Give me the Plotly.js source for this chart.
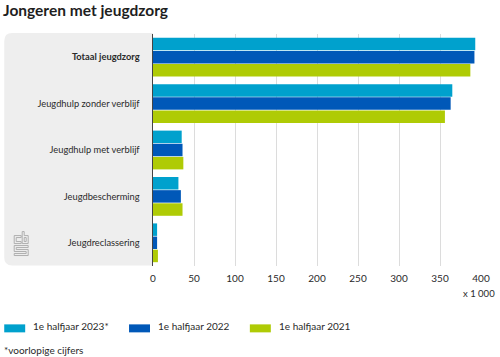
<!DOCTYPE html>
<html><head><meta charset="utf-8">
<script src="https://cdn.plot.ly/plotly-3.0.1.min.js"></script>
<style>html,body{margin:0;padding:0;background:#fff}#c{width:500px;height:357px}</style>
</head><body><div id="c"></div>
<script>
const categories = ['<b>Totaal jeugdzorg</b>','Jeugdhulp zonder verblijf','Jeugdhulp met verblijf','Jeugdbescherming','Jeugdreclassering'];
const seriesNames = ['1e halfjaar 2023*','1e halfjaar 2022','1e halfjaar 2021'];
const values2023 = [393,365,35,31,5];
const values2022 = [392,363,36,34,5];
const values2021 = [387,356,37,36,6];
const colors = ['#00a1cd','#0058b8','#afcb05'];
const xTicks = [0,50,100,150,200,250,300,350,400];
const FONT = 'Lato, "Noto Sans", sans-serif';
const W=500,H=357,L=153,R=481.5,T=34,B=266.5;
const allValues=[values2023,values2022,values2021];
const traces=allValues.map((v,i)=>({type:'bar',orientation:'h',name:seriesNames[i],x:v,y:categories,
  marker:{color:colors[i]},hoverinfo:'x+y'}));
const legendX=[4,129,250];
const fx=x=>(x-L)/(R-L), fy=y=>(B-y)/(B-T);
const shapes=[
 {type:'path',xref:'paper',yref:'paper',layer:'below',line:{width:0},fillcolor:'#eeeeee',
  path:`M ${fx(153)} ${fy(33)} L ${fx(12)} ${fy(33)} Q ${fx(4)} ${fy(33)} ${fx(4)} ${fy(41)} L ${fx(4)} ${fy(258)} Q ${fx(4)} ${fy(266)} ${fx(12)} ${fy(266)} L ${fx(153)} ${fy(266)} Z`}
];
const annotations=[
 {xref:'paper',yref:'paper',x:fx(1),xanchor:'left',y:fy(9.5),yanchor:'middle',text:'<b>Jongeren met jeugdzorg</b>',showarrow:false,font:{family:FONT,size:15.5,color:'#1e1e1e'}},
 {xref:'paper',yref:'paper',x:fx(498),xanchor:'right',y:fy(294),yanchor:'middle',text:'x 1 000',showarrow:false,font:{family:FONT,size:9.5,color:'#2a2a2a'}},
 {xref:'paper',yref:'paper',x:fx(2),xanchor:'left',y:fy(351),yanchor:'middle',text:'*voorlopige cijfers',showarrow:false,font:{family:FONT,size:10,color:'#2a2a2a'}}
];
seriesNames.forEach((n,i)=>{
 shapes.push({type:'rect',xref:'paper',yref:'paper',x0:fx(legendX[i]),x1:fx(legendX[i]+21),
   y0:fy(333),y1:fy(325),fillcolor:colors[i],line:{width:0}});
 annotations.push({xref:'paper',yref:'paper',x:fx(legendX[i]+27),xanchor:'left',y:fy(327),yanchor:'middle',
   text:n,showarrow:false,font:{family:FONT,size:10,color:'#2a2a2a'}});
});
// CBS logo outline
const logoX=14, logoY=232;
const lg=(x,y)=>`${fx(logoX+x)} ${fy(logoY+y)}`;
shapes.push({type:'path',xref:'paper',yref:'paper',line:{color:'#a8a8a8',width:0.9},
 path:`M ${lg(0,4)} L ${lg(7,4)} L ${lg(7,6)} L ${lg(2,6)} L ${lg(2,10)} L ${lg(7,10)} L ${lg(7,12)} L ${lg(0,12)} Z M ${lg(8,0)} L ${lg(10,0)} L ${lg(10,4)} L ${lg(14,4)} L ${lg(14,12)} L ${lg(8,12)} Z M ${lg(10,6)} L ${lg(12,6)} L ${lg(12,10)} L ${lg(10,10)} Z M ${lg(0,14)} L ${lg(14,14)} L ${lg(14,16)} L ${lg(2,16)} L ${lg(2,18)} L ${lg(14,18)} L ${lg(14,24)} L ${lg(0,24)} L ${lg(0,22)} L ${lg(12,22)} L ${lg(12,20)} L ${lg(0,20)} Z`});
const layout={width:W,height:H,paper_bgcolor:'#fff',plot_bgcolor:'rgba(0,0,0,0)',showlegend:false,
 margin:{l:L,r:W-R,t:T,b:H-B,pad:0},
 barmode:'group',bargap:0.15,bargroupgap:0.05,
 font:{family:FONT,size:10,color:'#2a2a2a'},
 xaxis:{range:[0,400],tickvals:xTicks,ticktext:xTicks.map(String),showgrid:true,gridcolor:'#dcdcdc',gridwidth:1,zeroline:false,showline:false,ticks:'',tickfont:{size:10,color:'#2a2a2a'},ticklabelstandoff:5},
 yaxis:{autorange:'reversed',type:'category',showgrid:false,zeroline:false,showline:true,linecolor:'#444',linewidth:1.5,ticks:'',ticklabelstandoff:10,tickfont:{size:9.3,color:'#2a2a2a'}},
 shapes,annotations};
Plotly.newPlot('c',traces,layout,{displayModeBar:false,staticPlot:true});
</script></body></html>
